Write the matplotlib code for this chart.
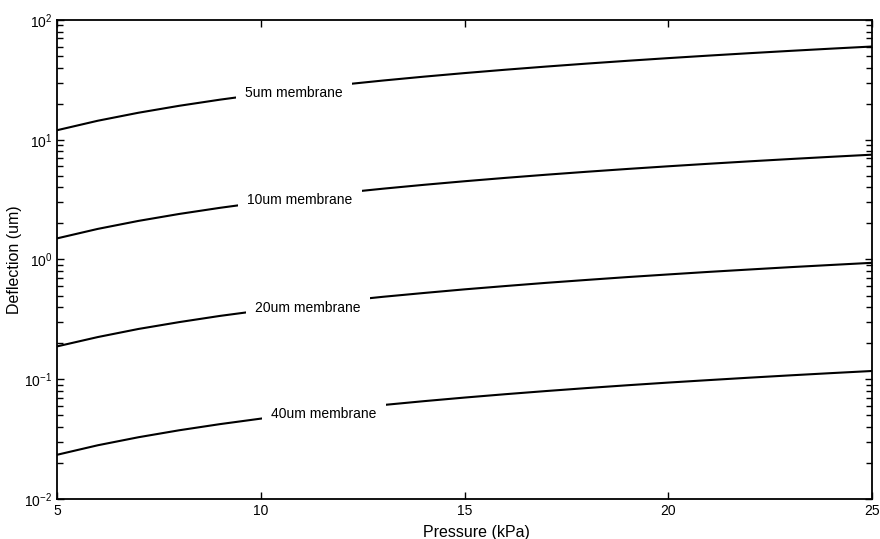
import matplotlib
matplotlib.use("Agg")
import matplotlib.pyplot as plt
import numpy as np

plt.rcParams['font.family'] = ['Liberation Sans', 'DejaVu Sans']
plt.rcParams['font.size'] = 10

# pressure (kPa) and deflection (um)
pressure = [5, 6, 7, 8, 9, 10, 11, 12, 13, 14, 15, 16, 17, 18, 19, 20, 21, 22, 23, 24, 25]
defl_5um = [12.0, 14.4, 16.8, 19.2, 21.6, 24.0, 26.4, 28.8, 31.2, 33.6, 36.0,
            38.4, 40.8, 43.2, 45.6, 48.0, 50.4, 52.8, 55.2, 57.6, 60.0]
defl_10um = [1.50, 1.80, 2.10, 2.40, 2.70, 3.00, 3.30, 3.60, 3.90, 4.20, 4.50,
             4.80, 5.10, 5.40, 5.70, 6.00, 6.30, 6.60, 6.90, 7.20, 7.50]
defl_20um = [0.188, 0.225, 0.263, 0.300, 0.338, 0.375, 0.413, 0.450, 0.488, 0.525, 0.563,
             0.600, 0.638, 0.675, 0.713, 0.750, 0.788, 0.825, 0.863, 0.900, 0.938]
defl_40um = [0.0234, 0.0281, 0.0328, 0.0375, 0.0422, 0.0469, 0.0516, 0.0563, 0.0609, 0.0656, 0.0703,
             0.0750, 0.0797, 0.0844, 0.0891, 0.0938, 0.0984, 0.1031, 0.1078, 0.1125, 0.1172]

series = [defl_5um, defl_10um, defl_20um, defl_40um]
labels = ["5um membrane", "10um membrane", "20um membrane", "40um membrane"]
label_x = [10.82, 10.96, 11.16, 11.55]

fig = plt.figure(figsize=(8.8, 5.39), dpi=100)
ax = fig.add_axes([0.0648, 0.0742, 0.9262, 0.8888])

for ys, lab, lx in zip(series, labels, label_x):
    ax.plot(pressure, ys, color='black', lw=1.5, zorder=2)
    ly = np.exp(np.interp(lx, pressure, np.log(ys)))
    # small downward nudge like the original label placement
    ax.annotate(lab, (lx, ly), xytext=(0, -2), textcoords='offset points',
                ha='center', va='center', fontsize=10, zorder=3,
                bbox=dict(facecolor='white', edgecolor='none', pad=6.5))

ax.set_yscale('log')
ax.set_xlim(5, 25)
ax.set_ylim(1e-2, 1e2)
ax.set_xticks([5, 10, 15, 20, 25])
ax.set_xticklabels(['5', '10', '15', '20', '25'])
ax.tick_params(which='both', direction='in', top=True, right=True, width=1.0, labelsize=10)
ax.tick_params(which='major', length=5)
ax.tick_params(which='minor', length=4)
ax.tick_params(axis='x', which='minor', bottom=False, top=False)
for s in ax.spines.values():
    s.set_linewidth(1.3)

ax.set_xlabel('Pressure (kPa)', fontsize=11.5)
ax.set_ylabel('Deflection (um)', fontsize=11.5)
ax.xaxis.set_label_coords(0.515, -0.054)
ax.yaxis.set_label_coords(-0.043, 0.5)

fig.savefig('out.png', dpi=100)
